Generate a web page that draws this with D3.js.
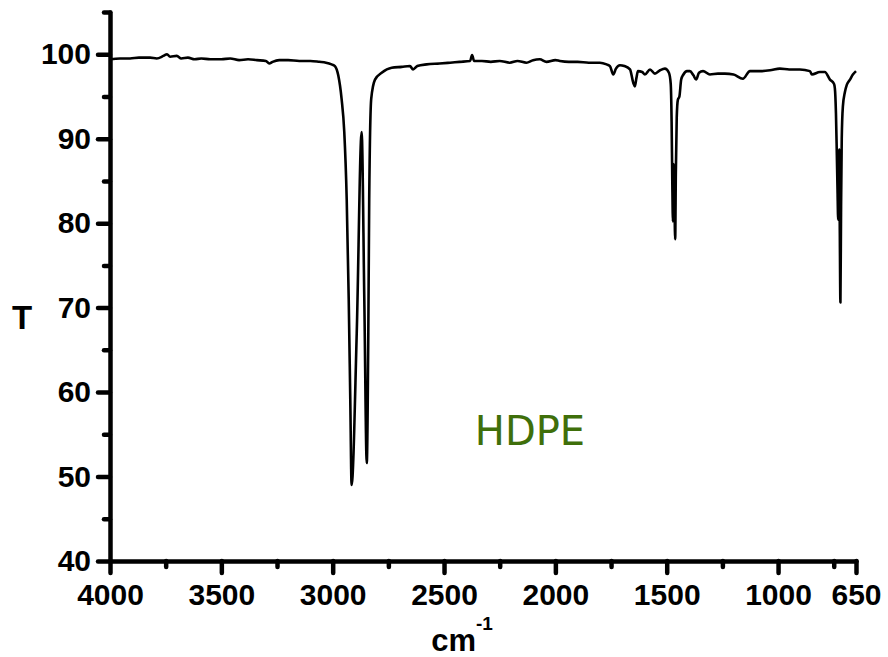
<!doctype html>
<html>
<head>
<meta charset="utf-8">
<script src="https://d3js.org/d3.v7.min.js"></script>
<style>
  body { margin: 0; background: #fff; }
  svg text { font-family: "Liberation Sans", Arial, sans-serif; font-weight: bold; }
</style>
</head>
<body>
<svg id="chart" width="888" height="657"></svg>
<script>

// wavenumbers (cm-1), high to low
var wavenumber = [4000, 3955, 3910, 3870, 3820, 3790, 3760, 3744, 3730, 3700, 3680, 3650, 3620, 3590, 3550, 3500,
	3460, 3420, 3380, 3340, 3300, 3285, 3270, 3240, 3200, 3150, 3100, 3060, 3030, 3005, 2990, 2975, 2960, 2948,
	2937, 2928, 2921, 2915, 2892, 2870, 2858, 2847, 2840, 2836, 2827, 2810, 2780, 2735, 2690, 2653, 2639, 2620,
	2578, 2520, 2473, 2430, 2383, 2374, 2365, 2330, 2290, 2250, 2205, 2170, 2130, 2100, 2070, 2040, 2000, 1980,
	1940, 1900, 1850, 1800, 1770, 1755, 1740, 1728, 1710, 1690, 1665, 1650, 1643, 1636, 1629, 1610, 1598, 1575,
	1553, 1530, 1508, 1490, 1482, 1478, 1475, 1472, 1469, 1466, 1462, 1459, 1455, 1450, 1443, 1435, 1425, 1409,
	1396, 1380, 1368, 1355, 1337, 1306, 1270, 1239, 1200, 1158, 1126, 1080, 1036, 992, 950, 902, 857, 848, 812,
	790, 767, 749, 745, 740, 736, 733, 730, 728, 726, 723, 720, 717, 714, 709, 700, 691, 677, 664, 650];

// transmittance (%) at each wavenumber
var transmittance = [99.4, 99.5, 99.5, 99.6, 99.6, 99.5, 99.8, 100.0, 99.7, 99.8, 99.5, 99.6, 99.4, 99.5, 99.4, 99.4,
	99.5, 99.3, 99.4, 99.3, 99.2, 98.9, 99.1, 99.3, 99.3, 99.2, 99.2, 99.1, 99.0, 98.8, 98.6, 97.5, 94.7, 90.8,
	82.8, 71.0, 59.1, 49.0, 67.0, 90.8, 71.0, 51.6, 67.0, 82.8, 94.7, 97.0, 97.8, 98.4, 98.5, 98.6, 98.2, 98.6,
	98.8, 98.9, 99.0, 99.1, 99.2, 99.9, 99.2, 99.2, 99.1, 99.2, 99.0, 99.2, 99.0, 99.3, 99.4, 99.1, 99.3, 99.2,
	99.1, 99.1, 99.0, 99.0, 98.8, 98.6, 97.6, 98.3, 98.7, 98.6, 98.2, 96.6, 96.2, 97.2, 98.0, 97.9, 97.6, 98.2,
	97.7, 98.1, 98.3, 97.8, 96.5, 92.0, 85.0, 80.2, 87.0, 84.0, 78.1, 86.0, 92.5, 94.6, 95.0, 97.0, 97.6, 98.0,
	98.0, 97.5, 97.0, 97.8, 98.0, 97.6, 97.7, 97.7, 97.6, 97.1, 98.0, 98.0, 98.1, 98.3, 98.2, 98.2, 98.0, 97.6, 97.9,
	97.9, 97.0, 96.5, 96.0, 93.0, 88.0, 84.0, 80.4, 85.0, 88.7, 80.0, 70.6, 82.0, 90.0, 93.8, 95.5, 96.4, 97.0, 97.6, 98.0];

var xMajor = [4000, 3500, 3000, 2500, 2000, 1500, 1000, 650];
var xMinor = [3750, 3250, 2750, 2250, 1750, 1250, 750];
var yMajor = [40, 50, 60, 70, 80, 90, 100];
var yMinor = [45, 55, 65, 75, 85, 95, 105];

var svg = d3.select("#chart");

var x = d3.scaleLinear().domain([4000, 650]).range([110, 856]);
var y = d3.scaleLinear().domain([40, 105]).range([561, 12]);

var points = wavenumber.map((w, i) => ({w: w, t: transmittance[i]}));

// minor ticks first, axes on top
svg.append("g")
	.attr("transform", "translate(0,561)")
	.call(d3.axisBottom(x).tickValues(xMinor).tickSize(6).tickFormat(""))
	.call(g => g.select(".domain").remove());
svg.append("g")
	.attr("transform", "translate(110,0)")
	.call(d3.axisLeft(y).tickValues(yMinor).tickSize(6).tickFormat(""))
	.call(g => g.select(".domain").remove());

svg.append("g")
	.attr("transform", "translate(0,561)")
	.call(d3.axisBottom(x).tickValues(xMajor).tickFormat(d3.format("d"))
		.tickSize(12).tickSizeOuter(0).tickPadding(11));
svg.append("g")
	.attr("transform", "translate(110,0)")
	.call(d3.axisLeft(y).tickValues(yMajor).tickFormat(d3.format("d"))
		.tickSize(12).tickSizeOuter(0).tickPadding(7));

svg.selectAll(".tick line, .domain")
	.style("stroke", "#000")
	.style("stroke-width", "4.5px")
	.style("stroke-linecap", "round");
svg.selectAll(".tick text")
	.attr("fill", "#000")
	.style("font-size", "30px");

// spectrum
svg.append("path")
	.datum(points)
	.attr("fill", "none")
	.attr("stroke", "#000")
	.attr("stroke-width", 2.6)
	.attr("stroke-linejoin", "round")
	.attr("d", d3.line()
		.x(d => x(d.w))
		.y(d => y(d.t))
		.curve(d3.curveMonotoneX));

// axis titles
svg.append("text")
	.attr("x", 22)
	.attr("y", 329)
	.attr("text-anchor", "middle")
	.style("font-size", "33px")
	.text("T");

var xt = svg.append("text")
	.attr("x", 462)
	.attr("y", 651)
	.attr("text-anchor", "middle")
	.style("font-size", "31px");
xt.append("tspan").text("cm");
xt.append("tspan")
	.attr("dy", -21)
	.style("font-size", "19px")
	.text("-1");

svg.append("text")
	.attr("x", 530)
	.attr("y", 445)
	.attr("text-anchor", "middle")
	.attr("fill", "#3f6f0a")
	.style("font-family", "'DejaVu Sans', sans-serif")
	.style("font-weight", "normal")
	.style("font-size", "40px")
	.text("HDPE");

</script>
</body>
</html>
